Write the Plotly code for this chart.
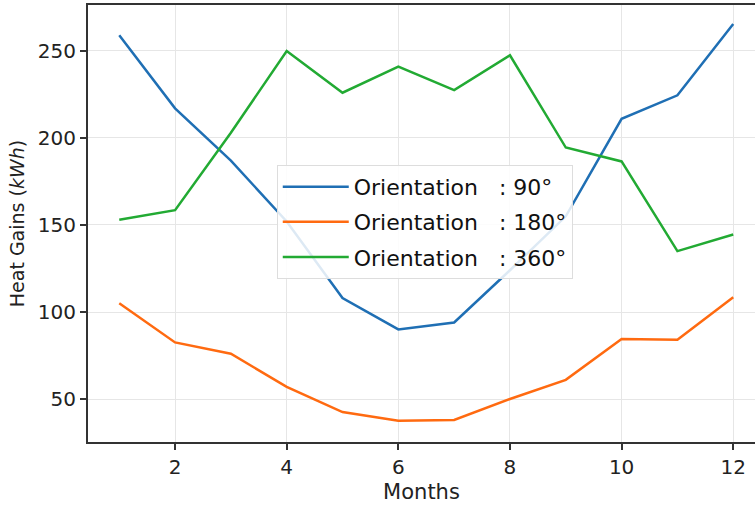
import plotly.graph_objects as go

months = list(range(1, 13))
orient_90 = [259, 217, 187, 152, 108, 90, 94, 124, 155, 211, 224.5, 265.5]
orient_180 = [105, 82.5, 76, 57, 42.5, 37.5, 38, 50, 61, 84.5, 84, 108.5]
orient_360 = [153, 158.5, 203, 250, 226, 241, 227.5, 247.5, 194.5, 186.5, 135, 144.5]
names = ["Orientation\u00a0\u00a0 : 90°", "Orientation\u00a0\u00a0 : 180°", "Orientation\u00a0\u00a0 : 360°"]
colors = ["#1f6fb4", "#ff6a10", "#22aa33"]

FONT = "DejaVu Sans"
fig = go.Figure()
for i, (ys, nm, c) in enumerate(zip([orient_90, orient_180, orient_360], names, colors)):
    fig.add_trace(go.Scatter(x=months, y=ys, mode="lines", name=nm, legendgroup=f"g{i}",
                             line=dict(color=c, width=2.5)))

fig.update_layout(
    width=755, height=507,
    margin=dict(l=88, r=0, t=5, b=65),
    plot_bgcolor="white", paper_bgcolor="white",
    font=dict(family=FONT, color="#222222", size=20),
    legend=dict(x=0.283, y=0.634, xanchor="left", yanchor="top",
                bgcolor="rgba(255,255,255,0.85)", bordercolor="#dddddd", borderwidth=1,
                font=dict(size=22, family=FONT, color="#111111"),
                tracegroupgap=3.5, itemwidth=66),
    showlegend=True,
)
fig.update_xaxes(range=[0.44, 12.39], tickmode="linear", tick0=2, dtick=2, automargin=False,
                 showgrid=True, gridcolor="#e6e6e6", gridwidth=1,
                 showline=True, linecolor="#333333", linewidth=2, mirror=True,
                 ticks="outside", ticklen=6, tickwidth=1.5, tickcolor="#333333",
                 zeroline=False, tickfont=dict(size=20),
                 title=dict(text="Months", font=dict(size=21), standoff=6))
fig.update_yaxes(range=[25.3, 276.4], tickmode="linear", tick0=50, dtick=50, automargin=False,
                 showgrid=True, gridcolor="#e6e6e6", gridwidth=1,
                 showline=True, linecolor="#333333", linewidth=2, mirror=False,
                 ticks="outside", ticklen=6, tickwidth=1.5, tickcolor="#333333",
                 zeroline=False, tickfont=dict(size=20),
                 title=dict(text="Heat Gains (<i>kWh</i>)", font=dict(size=19), standoff=8))

fig.write_html("out.html", config={"displayModeBar": False},
               post_script="document.body.style.margin='0';")
